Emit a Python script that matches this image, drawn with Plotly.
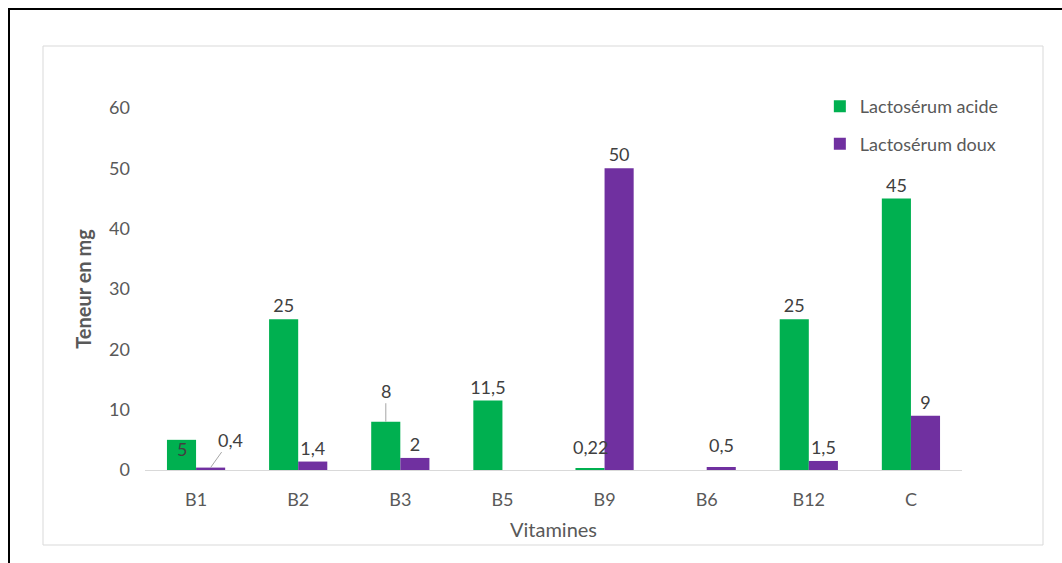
import plotly.graph_objects as go

# Vitamin content of two kinds of whey (mg)
vitamines = ["B1", "B2", "B3", "B5", "B9", "B6", "B12", "C"]
acide = [5, 25, 8, 11.5, 0.22, None, 25, 45]
doux = [0.4, 1.4, 2, None, 50, 0.5, 1.5, 9]

GREEN = "#00b050"
PURPLE = "#7030a0"
TXT = "#404040"
AX = "#595959"
FONT = "Lato"
FS = 18


def fr(v):
    return "" if v is None else f"{v:g}".replace(".", ",")


# label placement per bar: 'outside' or 'none' (drawn as annotation)
pos_acide = ["none", "outside", "none", "outside", "none", "none", "outside", "outside"]
pos_doux = ["none", "outside", "outside", "none", "outside", "none", "outside", "outside"]

lab_font = dict(family=FONT, size=FS, color=TXT)

fig = go.Figure()
fig.add_trace(go.Bar(
    name="Lactosérum acide", x=vitamines, y=acide,
    marker=dict(color=GREEN, line=dict(width=0)),
    text=[fr(v) for v in acide], textposition=pos_acide,
    textfont=lab_font, outsidetextfont=lab_font, constraintext="none",
    cliponaxis=False, legendgroup="a",
))
fig.add_trace(go.Bar(
    name="Lactosérum doux", x=vitamines, y=doux,
    marker=dict(color=PURPLE, line=dict(width=0)),
    text=[fr(v) for v in doux], textposition=pos_doux,
    textfont=lab_font, outsidetextfont=lab_font, constraintext="none",
    cliponaxis=False, legendgroup="d",
))

# labels with leader lines or custom offsets
half = 14.5
ann = [
    # (category, value, xshift, arrow offset)
    ("B1", doux[0], half, (20, 28)),
    ("B3", acide[2], -half, (0, 31)),
]
annotations = []
for cat, val, xs, (ax, ay) in ann:
    annotations.append(dict(
        x=cat, y=val, xref="x", yref="y", xshift=xs,
        text=fr(val), showarrow=True, arrowhead=0, arrowwidth=1,
        arrowcolor="#a6a6a6", ax=ax, ay=-ay, standoff=0,
        font=lab_font,
    ))
for cat, val, xs, ys in [("B1", acide[0], -half, -9),
                         ("B9", acide[4], -half, 22),
                         ("B6", doux[5], half, 22)]:
    annotations.append(dict(
        x=cat, y=val, xref="x", yref="y", xshift=xs, yshift=ys,
        text=fr(val), showarrow=False, font=lab_font,
    ))

fig.update_layout(
    width=1062, height=563,
    margin=dict(l=145, r=100, t=108, b=93),
    paper_bgcolor="white", plot_bgcolor="white",
    barmode="group", bargap=0.43, bargroupgap=0,
    font=dict(family=FONT, size=FS, color=AX),
    showlegend=True,
    legend=dict(
        x=0.826, y=1.055, xanchor="left", yanchor="top",
        traceorder="grouped", tracegroupgap=11,
        font=dict(family=FONT, size=FS, color=AX),
        bgcolor="rgba(0,0,0,0)",
    ),
    annotations=annotations,
    shapes=[
        # outer frame
        dict(type="rect", xref="paper", yref="paper",
             x0=-136 / 817, x1=1.2, y0=-0.5, y1=(470 - 9) / 362,
             line=dict(color="black", width=2), layer="below"),
        # inner chart box
        dict(type="rect", xref="paper", yref="paper",
             x0=(43 - 145) / 817, x1=(1043 - 145) / 817,
             y0=(470 - 545) / 362, y1=(470 - 46) / 362,
             line=dict(color="#d9d9d9", width=1), layer="below"),
    ],
)
fig.update_xaxes(
    showline=True, linecolor="#d9d9d9", linewidth=1,
    showgrid=False, ticks="", ticklabelstandoff=13,
    tickfont=dict(family=FONT, size=FS, color=AX),
    title=dict(text="Vitamines", standoff=14,
               font=dict(family=FONT, size=20, color=AX)),
)
fig.update_yaxes(
    range=[0, 60], dtick=10, showgrid=False, zeroline=False,
    showline=False, ticks="", ticklabelstandoff=14,
    tickfont=dict(family=FONT, size=FS, color=AX),
    title=dict(text="<b>Teneur en mg</b>", standoff=12,
               font=dict(family=FONT, size=20, color=AX)),
)

fig.write_html("out.html")
